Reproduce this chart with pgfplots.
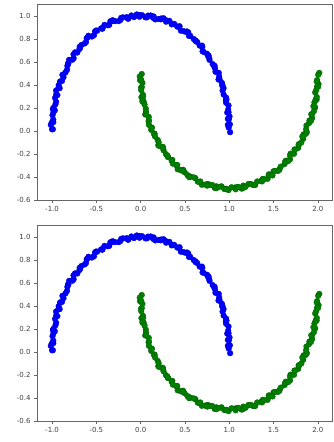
\documentclass[border=0pt]{standalone}
\usepackage{fontspec}
\setmainfont{DejaVu Sans}
\usepackage{pgfplots}
\usepackage{pgfplotstable}
\pgfplotsset{compat=1.18}
\definecolor{mblue}{RGB}{0,0,255}
\definecolor{mgreen}{RGB}{0,128,0}
\pgfplotstableread{
x y
1.010 -0.010
0.984 0.054
0.996 0.102
1.003 0.127
0.977 0.160
0.992 0.222
0.962 0.267
0.964 0.291
0.925 0.352
0.924 0.398
0.918 0.419
0.879 0.448
0.882 0.506
0.839 0.545
0.829 0.564
0.778 0.619
0.766 0.658
0.749 0.672
0.699 0.693
0.692 0.743
0.639 0.774
0.619 0.783
0.559 0.829
0.537 0.858
0.512 0.862
0.454 0.873
0.439 0.912
0.379 0.932
0.352 0.930
0.286 0.964
0.259 0.981
0.228 0.972
0.166 0.971
0.147 0.997
0.083 1.004
0.054 0.989
-0.015 1.010
-0.044 1.014
-0.075 0.992
-0.139 0.977
-0.158 0.991
-0.220 0.984
-0.249 0.956
-0.316 0.964
-0.342 0.955
-0.371 0.920
-0.431 0.892
-0.446 0.893
-0.504 0.874
-0.527 0.833
-0.589 0.829
-0.609 0.808
-0.631 0.762
-0.684 0.723
-0.691 0.713
-0.741 0.684
-0.756 0.633
-0.808 0.619
-0.819 0.589
-0.831 0.533
-0.874 0.486
-0.871 0.468
-0.910 0.431
-0.914 0.373
-0.955 0.352
-0.954 0.316
-0.954 0.255
-0.984 0.202
-0.969 0.180
-0.995 0.138
-0.986 0.077
-1.014 0.054
-1.000 0.015
0.994 0.030
1.007 0.059
0.984 0.105
0.992 0.163
0.988 0.186
0.965 0.246
0.969 0.274
0.937 0.317
0.936 0.373
0.922 0.394
0.891 0.450
0.886 0.475
0.845 0.515
0.835 0.567
0.813 0.582
0.774 0.634
0.761 0.653
0.712 0.688
0.696 0.733
0.666 0.743
0.620 0.788
0.600 0.800
0.546 0.827
0.523 0.866
0.488 0.868
0.436 0.905
0.412 0.909
0.352 0.928
0.325 0.958
0.287 0.951
0.232 0.979
0.204 0.975
0.142 0.984
0.113 1.005
0.072 0.989
0.016 1.008
-0.013 0.994
-0.075 0.994
-0.105 1.005
-0.145 0.979
-0.201 0.989
-0.229 0.965
-0.290 0.956
-0.317 0.958
-0.355 0.923
-0.409 0.923
-0.433 0.891
-0.491 0.873
-0.515 0.866
-0.549 0.822
-0.597 0.814
-0.617 0.774
-0.669 0.748
-0.688 0.733
-0.715 0.683
-0.758 0.667
-0.771 0.620
-0.816 0.587
-0.827 0.567
-0.848 0.510
-0.883 0.489
-0.888 0.436
-0.925 0.399
-0.928 0.373
-0.940 0.312
-0.966 0.288
-0.962 0.232
-0.991 0.191
-0.984 0.163
-0.987 0.100
-1.004 0.073
-0.991 0.016
}\bluemoon
\pgfplotstableread{
x y
0.012 0.496
-0.007 0.442
0.020 0.419
0.005 0.378
0.025 0.316
0.009 0.294
0.034 0.256
0.058 0.195
0.052 0.144
0.092 0.123
0.090 0.085
0.123 0.028
0.119 0.010
0.157 -0.022
0.193 -0.078
0.199 -0.123
0.250 -0.137
0.259 -0.168
0.303 -0.217
0.309 -0.227
0.357 -0.251
0.403 -0.297
0.418 -0.333
0.479 -0.337
0.496 -0.358
0.548 -0.397
0.562 -0.396
0.617 -0.409
0.670 -0.444
0.691 -0.468
0.757 -0.460
0.780 -0.468
0.836 -0.495
0.855 -0.481
0.913 -0.481
0.968 -0.503
0.992 -0.514
1.060 -0.493
1.083 -0.488
1.141 -0.501
1.159 -0.475
1.216 -0.461
1.271 -0.470
1.293 -0.468
1.358 -0.434
1.379 -0.416
1.433 -0.416
1.447 -0.377
1.500 -0.351
1.549 -0.347
1.566 -0.333
1.625 -0.287
1.639 -0.258
1.686 -0.247
1.692 -0.197
1.737 -0.161
1.778 -0.147
1.785 -0.123
1.835 -0.068
1.839 -0.029
1.876 -0.010
1.872 0.048
1.906 0.092
1.936 0.113
1.932 0.144
1.970 0.205
1.962 0.249
1.986 0.274
1.970 0.336
1.991 0.385
2.008 0.409
1.991 0.442
2.016 0.506
-0.010 0.474
0.006 0.446
0.013 0.382
0.006 0.356
0.028 0.299
0.019 0.258
0.044 0.231
0.060 0.170
0.062 0.146
0.094 0.091
0.093 0.054
0.127 0.030
0.152 -0.028
0.163 -0.048
0.203 -0.097
0.210 -0.130
0.252 -0.148
0.285 -0.201
0.302 -0.214
0.350 -0.258
0.364 -0.284
0.413 -0.295
0.451 -0.340
0.475 -0.347
0.528 -0.383
0.548 -0.401
0.601 -0.404
0.645 -0.441
0.673 -0.439
0.729 -0.466
0.752 -0.475
0.809 -0.470
0.855 -0.497
0.885 -0.486
0.944 -0.504
0.968 -0.504
1.026 -0.489
1.072 -0.507
1.103 -0.486
1.161 -0.494
1.185 -0.485
1.242 -0.460
1.287 -0.469
1.315 -0.439
1.371 -0.438
1.393 -0.419
1.446 -0.386
1.488 -0.386
1.513 -0.347
1.565 -0.337
1.581 -0.310
1.630 -0.269
1.666 -0.261
1.686 -0.214
1.731 -0.198
1.742 -0.163
1.784 -0.115
1.813 -0.100
1.825 -0.048
1.864 -0.025
1.867 0.015
1.901 0.069
1.922 0.088
1.926 0.146
1.956 0.173
1.950 0.216
1.975 0.273
1.988 0.296
1.982 0.356
2.003 0.385
1.988 0.431
2.004 0.489
}\greenmoon
\pgfplotsset{
  moonaxis/.style={
    scale only axis, width=295pt, height=196pt,
    xmin=-1.17, xmax=2.16, ymin=-0.6, ymax=1.105,
    xtick={-1,-0.5,0,0.5,1,1.5,2},
    ytick={-0.6,-0.4,-0.2,0,0.2,0.4,0.6,0.8,1.0},
    xticklabel style={/pgf/number format/.cd,fixed,fixed zerofill,precision=1},
    yticklabel style={/pgf/number format/.cd,fixed,fixed zerofill,precision=1},
    /pgf/number format/assume math mode=true,
    tick label style={font=\fontsize{7}{8}\selectfont, text=black!75},
    tick align=outside, major tick length=3pt,
    tick style={black!60, line width=0.5pt},
    axis line style={black!60, line width=0.6pt},
    xtick pos=bottom, ytick pos=left,
    anchor=south west,
    clip=false,
  },
  bluestyle/.style={only marks, mark=*, mark size=2.9pt,
    mark options={fill=mblue, draw=mblue!80!black, line width=0.3pt}},
  greenstyle/.style={only marks, mark=*, mark size=2.9pt,
    mark options={fill=mgreen, draw=mgreen!75!black, line width=0.3pt}},
}
\begin{document}
\begin{tikzpicture}[x=1pt,y=1pt]
\begin{axis}[moonaxis, at={(37pt,242pt)}]
\addplot[bluestyle] table[x=x,y=y] {\bluemoon};
\addplot[greenstyle] table[x=x,y=y] {\greenmoon};
\end{axis}
\begin{axis}[moonaxis, at={(37pt,21pt)}]
\addplot[bluestyle] table[x=x,y=y] {\bluemoon};
\addplot[greenstyle] table[x=x,y=y] {\greenmoon};
\end{axis}
\pgfresetboundingbox
\path[use as bounding box] (0pt,0pt) rectangle (333pt,442pt);
\end{tikzpicture}
\end{document}
